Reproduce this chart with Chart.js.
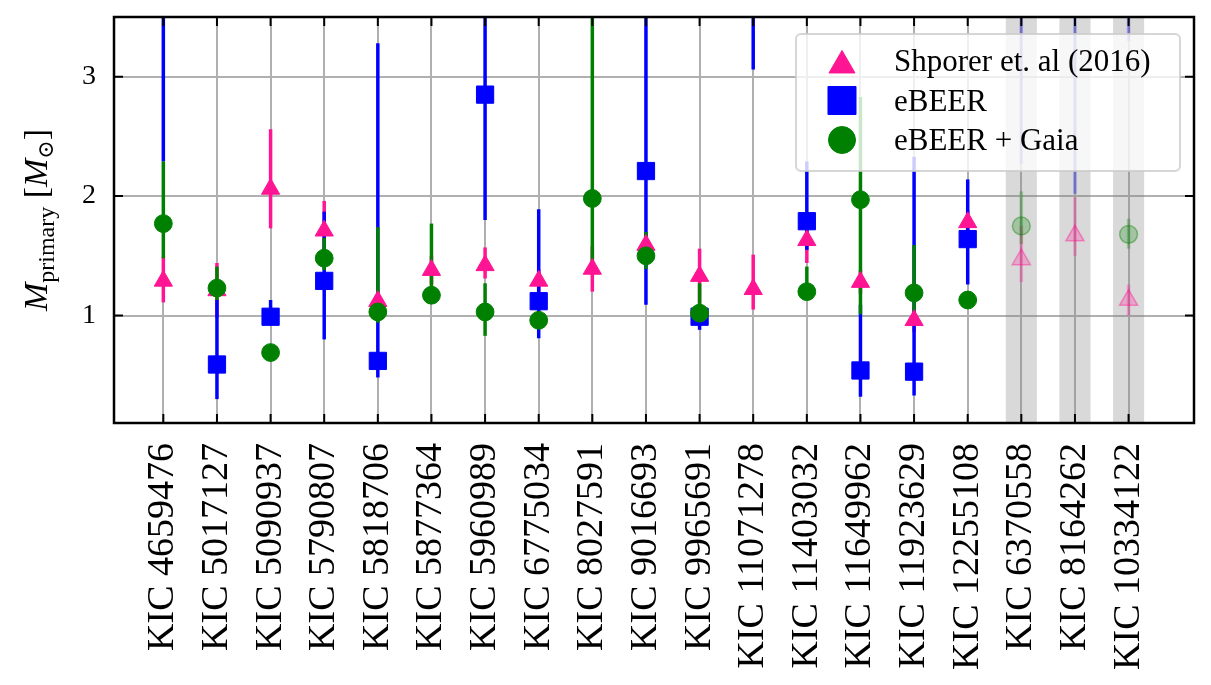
<!DOCTYPE html>
<html>
<head>
<meta charset="utf-8">
<title>Primary masses</title>
<script src="https://cdn.jsdelivr.net/npm/chart.js@4/dist/chart.umd.min.js"></script>
<style>
    html, body { margin: 0; padding: 0; background: #fff; }
    #wrap { width: 1211px; height: 685px; }
</style>
</head>
<body>
<div id="wrap"><canvas id="mass-chart" width="1211" height="685"></canvas></div>
<script>
// ============================================
// DATA
// ============================================
const kicLabels = [
    'KIC 4659476', 'KIC 5017127', 'KIC 5090937', 'KIC 5790807', 'KIC 5818706',
    'KIC 5877364', 'KIC 5960989', 'KIC 6775034', 'KIC 8027591', 'KIC 9016693',
    'KIC 9965691', 'KIC 11071278', 'KIC 11403032', 'KIC 11649962', 'KIC 11923629',
    'KIC 12255108', 'KIC 6370558', 'KIC 8164262', 'KIC 10334122'
];

// last three stars are shaded / faded in the figure
const fadedStars = [
    false, false, false, false, false, false, false, false, false, false,
    false, false, false, false, false, false, true, true, true
];

const yTicks = [1, 2, 3];

// Shporer et. al (2016)
const shporerMass = [1.29, 1.21, 2.06, 1.71, 1.12, 1.38, 1.42, 1.29, 1.39, 1.59, 1.33, 1.22, 1.63, 1.28, 0.96, 1.78, 1.47, 1.67, 1.13];
const shporerErrUp = [0.20, 0.23, 0.50, 0.25, 0.10, 0.12, 0.15, 0.10, 0.19, 0.10, 0.23, 0.29, 0.19, 0.10, 0.10, 0.10, 0.28, 0.32, 0.13];
const shporerErrDown = [0.18, 0.23, 0.33, 0.25, 0.10, 0.12, 0.11, 0.10, 0.19, 0.10, 0.23, 0.17, 0.19, 0.10, 0.10, 0.10, 0.19, 0.17, 0.13];

// eBEER (some values lie above the plotted range)
const ebeerMass = [4.0, 0.59, 0.99, 1.29, 0.62, null, 2.85, 1.12, null, 2.21, 0.99, 4.0, 1.79, 0.54, 0.53, 1.64, 4.0, 4.0, 4.0];
const ebeerErrUp = [0.50, 0.54, 0.14, 0.58, 2.66, 0, 1.00, 0.77, 0, 1.50, 0.05, 0.50, 0.50, 0.55, 1.80, 0.50, 0.50, 0.50, 0.50];
const ebeerErrDown = [1.71, 0.29, 0.07, 0.49, 0.14, 0, 1.05, 0.31, 0, 1.12, 0.11, 0.94, 0.24, 0.22, 0.20, 0.38, 1.73, 1.98, 0.70];

// eBEER + Gaia
const gaiaMass = [1.77, 1.23, 0.69, 1.48, 1.03, 1.17, 1.03, 0.96, 1.98, 1.50, 1.02, null, 1.20, 1.97, 1.19, 1.13, 1.75, null, 1.68];
const gaiaErrUp = [0.52, 0.18, 0.03, 0.17, 0.71, 0.60, 0.24, 0.05, 1.80, 0.20, 0.25, 0, 0.21, 0.86, 0.40, 0.03, 0.29, 0, 0.13];
const gaiaErrDown = [0.29, 0.10, 0.03, 0.10, 0.09, 0.05, 0.20, 0.05, 0.55, 0.11, 0.05, 0, 0.05, 0.96, 0.17, 0.03, 0.15, 0, 0.12];

// ============================================
// STYLE
// ============================================
const PINK = '#ff1493';
const BLUE = '#0000ff';
const GREEN = '#008000';
const SERIF = "'Liberation Serif', 'DejaVu Serif', serif";

const series = [
    { label: 'Shporer et. al (2016)', values: shporerMass, up: shporerErrUp, down: shporerErrDown,
      color: PINK, pointStyle: 'triangle', radius: 10.5, legendRadius: 15, order: 3 },
    { label: 'eBEER', values: ebeerMass, up: ebeerErrUp, down: ebeerErrDown,
      color: BLUE, pointStyle: 'rect', radius: 12.2, legendRadius: 19.8, order: 2 },
    { label: 'eBEER + Gaia', values: gaiaMass, up: gaiaErrUp, down: gaiaErrDown,
      color: GREEN, pointStyle: 'circle', radius: 8.9, legendRadius: 13.5, order: 1 }
];

function toRgba(hex, alpha) {
    const r = parseInt(hex.slice(1, 3), 16);
    const g = parseInt(hex.slice(3, 5), 16);
    const b = parseInt(hex.slice(5, 7), 16);
    return `rgba(${r}, ${g}, ${b}, ${alpha})`;
}

const datasets = series.map(s => ({
    label: s.label,
    data: s.values
        .map((v, i) => (v == null ? null : { x: i, y: v }))
        .filter(p => p !== null),
    order: s.order,
    showLine: false,
    pointStyle: s.pointStyle,
    pointRadius: s.radius,
    pointHoverRadius: s.radius,
    pointBorderWidth: ctx => (ctx.raw && fadedStars[ctx.raw.x] ? 1.5 : 1),
    pointBackgroundColor: ctx => (ctx.raw && fadedStars[ctx.raw.x] ? toRgba(s.color, 0.25) : s.color),
    pointBorderColor: ctx => (ctx.raw && fadedStars[ctx.raw.x] ? toRgba(s.color, 0.4) : s.color)
}));

// ============================================
// PLUGIN: bands, error bars, frame, legend, y title
// ============================================
const massPlotPlugin = {
    id: 'massPlot',
    beforeDatasetsDraw(chart) {
        const { ctx, chartArea: a, scales: { x, y } } = chart;
        ctx.save();
        ctx.beginPath();
        ctx.rect(a.left, a.top, a.right - a.left, a.bottom - a.top);
        ctx.clip();

        // grey bands behind the faded stars
        ctx.fillStyle = 'rgba(128, 128, 128, 0.3)';
        fadedStars.forEach((faded, i) => {
            if (!faded) return;
            const x0 = x.getPixelForValue(i - 0.29);
            const x1 = x.getPixelForValue(i + 0.29);
            ctx.fillRect(x0, a.top, x1 - x0, a.bottom - a.top);
        });

        // error bars: all bars first, markers are drawn on top by the datasets
        ctx.lineWidth = 3.5;
        ctx.lineCap = 'butt';
        series.forEach(s => {
            s.values.forEach((v, i) => {
                if (v == null) return;
                const px = x.getPixelForValue(i);
                ctx.strokeStyle = fadedStars[i] ? toRgba(s.color, 0.3) : s.color;
                ctx.beginPath();
                ctx.moveTo(px, y.getPixelForValue(v + s.up[i]));
                ctx.lineTo(px, y.getPixelForValue(v - s.down[i]));
                ctx.stroke();
            });
        });
        ctx.restore();
    },
    afterDatasetsDraw(chart) {
        const { ctx, chartArea: a, scales: { x, y } } = chart;
        const tick = 9;
        ctx.save();
        ctx.strokeStyle = '#000';
        ctx.lineWidth = 2;
        ctx.beginPath();
        kicLabels.forEach((_, i) => {
            const px = x.getPixelForValue(i);
            ctx.moveTo(px, a.bottom); ctx.lineTo(px, a.bottom - tick);
            ctx.moveTo(px, a.top); ctx.lineTo(px, a.top + tick);
        });
        yTicks.forEach(v => {
            const py = y.getPixelForValue(v);
            ctx.moveTo(a.left, py); ctx.lineTo(a.left + tick, py);
            ctx.moveTo(a.right, py); ctx.lineTo(a.right - tick, py);
        });
        ctx.stroke();
        ctx.lineWidth = 2.5;
        ctx.strokeRect(a.left, a.top, a.right - a.left, a.bottom - a.top);
        ctx.restore();
    },
    afterDraw(chart) {
        const { ctx, chartArea: a } = chart;
        ctx.save();

        // y axis title: M_primary [M_sun]
        const parts = [
            { t: 'M', font: `italic 34px ${SERIF}`, dy: 0 },
            { t: 'primary', font: `24px ${SERIF}`, dy: 7 },
            { t: ' ', font: `34px ${SERIF}`, dy: 0 },
            { t: '[', font: `34px ${SERIF}`, dy: 0 },
            { t: 'M', font: `italic 34px ${SERIF}`, dy: 0 },
            { t: '\u2299', font: `22px 'DejaVu Serif', serif`, dy: 6 },
            { t: ']', font: `34px ${SERIF}`, dy: 0 }
        ];
        let total = 0;
        parts.forEach(p => { ctx.font = p.font; p.w = ctx.measureText(p.t).width; total += p.w; });
        ctx.translate(47, (a.top + a.bottom) / 2);
        ctx.rotate(-Math.PI / 2);
        ctx.fillStyle = '#000';
        ctx.textBaseline = 'alphabetic';
        let cx = -total / 2;
        parts.forEach(p => { ctx.font = p.font; ctx.fillText(p.t, cx, p.dy); cx += p.w; });
        ctx.restore();

        // legend box
        ctx.save();
        const bx = 796, by = 34, bw = 384, bh = 137, r = 5;
        ctx.beginPath();
        ctx.moveTo(bx + r, by);
        ctx.arcTo(bx + bw, by, bx + bw, by + bh, r);
        ctx.arcTo(bx + bw, by + bh, bx, by + bh, r);
        ctx.arcTo(bx, by + bh, bx, by, r);
        ctx.arcTo(bx, by, bx + bw, by, r);
        ctx.closePath();
        ctx.fillStyle = 'rgba(255, 255, 255, 0.8)';
        ctx.fill();
        ctx.strokeStyle = 'rgba(204, 204, 204, 0.8)';
        ctx.lineWidth = 2;
        ctx.stroke();

        const rows = [61.7, 100.5, 140];
        const baselines = [70.7, 111, 150];
        series.forEach((s, k) => {
            ctx.fillStyle = s.color;
            ctx.strokeStyle = s.color;
            ctx.lineWidth = 1;
            const cy = s.pointStyle === 'triangle' ? rows[k] + s.legendRadius / 4 : rows[k];
            Chart.helpers.drawPoint(ctx, { pointStyle: s.pointStyle, radius: s.legendRadius, rotation: 0, borderWidth: 1 }, 842, cy);
            ctx.fillStyle = '#000';
            ctx.font = `31px ${SERIF}`;
            ctx.textBaseline = 'alphabetic';
            ctx.textAlign = 'left';
            ctx.fillText(s.label, 894, baselines[k]);
        });
        ctx.restore();
    }
};

// ============================================
// CHART
// ============================================
new Chart(document.getElementById('mass-chart'), {
    type: 'scatter',
    data: { datasets },
    options: {
        responsive: false,
        animation: false,
        layout: { padding: { left: 0, right: 17, top: 17, bottom: 0 } },
        plugins: {
            legend: { display: false },
            tooltip: { enabled: false }
        },
        scales: {
            x: {
                type: 'linear',
                min: -0.92,
                max: 19.22,
                afterBuildTicks: scale => { scale.ticks = kicLabels.map((_, i) => ({ value: i })); },
                afterFit: scale => {
                    scale.height = 262;
                    scale.paddingLeft = 0;
                    scale.paddingRight = 0;
                },
                ticks: {
                    callback: v => kicLabels[v] || '',
                    autoSkip: false,
                    minRotation: 90,
                    maxRotation: 90,
                    padding: 20,
                    color: '#000',
                    font: { family: SERIF, size: 38 }
                },
                grid: { color: '#b0b0b0', lineWidth: 2, drawTicks: false },
                border: { display: false }
            },
            y: {
                min: 0.1,
                max: 3.5,
                afterBuildTicks: scale => { scale.ticks = yTicks.map(v => ({ value: v })); },
                afterFit: scale => {
                    scale.width = 114;
                    scale.paddingTop = 0;
                    scale.paddingBottom = 0;
                },
                ticks: {
                    padding: 18,
                    color: '#000',
                    font: { family: SERIF, size: 28 }
                },
                grid: { color: '#b0b0b0', lineWidth: 2, drawTicks: false },
                border: { display: false }
            }
        }
    },
    plugins: [massPlotPlugin]
});
</script>
</body>
</html>
